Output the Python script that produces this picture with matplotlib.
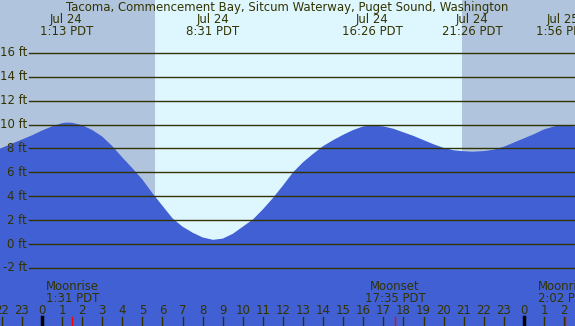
import numpy as np
import matplotlib.pyplot as plt
from matplotlib import transforms

# tide heights (ft), hours counted from Jul 24 00:00 PDT
tide_hours = [-2.09, -2, -1.5, -1, -0.5, 0, 0.5, 1, 1.22, 1.5, 2, 2.5, 3, 3.5,
              4, 4.5, 5, 5.5, 6, 6.5, 7, 7.5, 8, 8.52, 9, 9.5, 10, 10.5, 11,
              11.5, 12, 12.5, 13, 13.5, 14, 14.5, 15, 15.5, 16, 16.43, 17,
              17.5, 18, 18.5, 19, 19.5, 20, 20.5, 21, 21.43, 22, 22.5, 23,
              23.5, 24, 24.5, 25, 25.5, 25.93, 26.54]
tide_ft = [8.0, 8.05, 8.4, 8.75, 9.1, 9.5, 9.85, 10.12, 10.17, 10.15, 9.95,
           9.55, 9.0, 8.2, 7.25, 6.35, 5.4, 4.25, 3.2, 2.15, 1.45, 0.95, 0.55,
           0.35, 0.45, 0.85, 1.45, 2.05, 2.9, 3.85, 4.9, 6.0, 6.85, 7.55,
           8.2, 8.7, 9.15, 9.55, 9.85, 9.92, 9.85, 9.65, 9.35, 9.05, 8.7,
           8.35, 8.05, 7.85, 7.77, 7.73, 7.78, 7.9, 8.15, 8.5, 8.85, 9.2,
           9.6, 9.85, 9.97, 9.85]

# tide extremes shown on top
event_hours = [1.217, 8.517, 16.433, 21.433, 25.933]
event_dates = ['Jul 24', 'Jul 24', 'Jul 24', 'Jul 24', 'Jul 25']
event_times = ['1:13 PDT', '8:31 PDT', '16:26 PDT', '21:26 PDT', '1:56 PDT']

# moon events at the bottom
moon_hours = [1.517, 17.583, 26.033]
moon_names = ['Moonrise', 'Moonset', 'Moonrise']
moon_times = ['1:31 PDT', '17:35 PDT', '2:02 PDT']

sunrise = 5.63
sunset = 20.9
ft_levels = list(range(-2, 17, 2))
hour_ticks = list(range(-2, 27))

title = 'Tacoma, Commencement Bay, Sitcum Waterway, Puget Sound, Washington'

txt = '#333300'
blue = '#4060d4'
day = '#def7ff'
night = '#b0c4de'

plt.rcParams['font.family'] = ['DejaVu Sans']
fs = 9.4

fig = plt.figure(figsize=(5.75, 3.26), dpi=100)
ax = fig.add_axes([0, 0, 1, 1])
x0, x1 = -2.09, 26.54
ax.set_xlim(x0, x1)
ax.set_ylim(-82 / 11.94, 244 / 11.94)
ax.axis('off')

# day / night background
ax.axvspan(x0, sunrise, color=night, lw=0)
ax.axvspan(sunrise, sunset, color=day, lw=0)
ax.axvspan(sunset, x1, color=night, lw=0)

# water
ax.fill_between(tide_hours, tide_ft, -10, color=blue, lw=0)

# height lines and labels
for v in ft_levels:
    ax.plot([-0.65, x1], [v, v], color=txt, lw=1.0)
    ax.text(-0.74, v, '%d ft' % v, ha='right', va='center', color=txt,
            fontsize=fs, fontstretch='condensed')

tr = transforms.blended_transform_factory(ax.transData, ax.transAxes)
H = 326.0

def ypix(p):
    return 1 - p / H

ax.text(0.5, ypix(8), title, transform=ax.transAxes, ha='center',
        va='center', color=txt, fontsize=fs, fontstretch='condensed')

for h, d, t in zip(event_hours, event_dates, event_times):
    ax.text(h, ypix(19.5), d, transform=tr, ha='center', va='center',
            color=txt, fontsize=fs, fontstretch='condensed')
    ax.text(h, ypix(31.5), t, transform=tr, ha='center', va='center',
            color=txt, fontsize=fs, fontstretch='condensed')

for h, n, t in zip(moon_hours, moon_names, moon_times):
    ax.text(h, ypix(287), n, transform=tr, ha='center', va='center',
            color=txt, fontsize=fs, fontstretch='condensed')
    ax.text(h, ypix(299), t, transform=tr, ha='center', va='center',
            color=txt, fontsize=fs, fontstretch='condensed')
    ax.plot([h, h], [ypix(317), 0], transform=tr, color='red', lw=1.0)

# hour ticks
for h in hour_ticks:
    ax.text(h, ypix(311), str(h % 24), transform=tr, ha='center',
            va='center', color=txt, fontsize=fs, fontstretch='condensed')
    if h % 24 == 0:
        ax.plot([h, h], [ypix(317), 0], transform=tr, color='black', lw=2.5)
    else:
        ax.plot([h, h], [ypix(317), 0], transform=tr, color=txt, lw=1.0)

fig.savefig('out.png', dpi=100)
